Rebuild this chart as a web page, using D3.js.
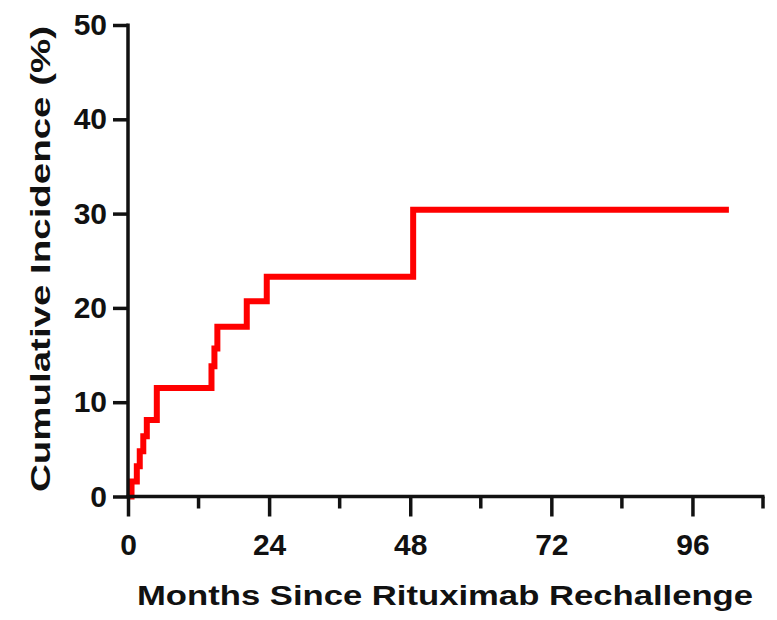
<!DOCTYPE html>
<html>
<head>
<meta charset="utf-8">
<script src="https://cdn.jsdelivr.net/npm/d3@7"></script>
<style>
  body { margin: 0; background: #fff; }
  text { font-family: "Liberation Sans", Arial, sans-serif; font-weight: bold; fill: #111; }
</style>
</head>
<body>
<svg id="chart" width="777" height="620"></svg>
<script>
// step points (months since rechallenge, cumulative incidence %)
const months = [0, 0.6, 1.5, 2.0, 2.6, 3.2, 4.9, 14.2, 14.7, 15.2, 20.2, 23.6, 48.5, 102.2];
const incidence = [0, 1.6, 3.2, 4.8, 6.4, 8.1, 11.5, 13.8, 15.7, 18.0, 20.7, 23.3, 30.4, 30.4];
const xMajor = [0, 24, 48, 72, 96];
const xMinor = [12, 36, 60, 84, 108];
const yTicks = [0, 10, 20, 30, 40, 50];

const svg = d3.select("#chart");
const x = d3.scaleLinear().domain([0, 108]).range([128, 763]);
const y = d3.scaleLinear().domain([0, 50]).range([496.5, 25]);

const data = months.map((m, i) => ({ m, v: incidence[i] }));

// the curve
const line = d3.line()
    .x(d => x(d.m))
    .y(d => y(d.v))
    .curve(d3.curveStepAfter);

svg.append("path")
    .datum(data)
    .attr("fill", "none")
    .attr("stroke", "#ff0000")
    .attr("stroke-width", 6)
    .attr("d", line);

// x axis
const gx = svg.append("g").attr("transform", "translate(0," + y(0) + ")");
gx.call(d3.axisBottom(x).tickValues(xMajor).tickSize(20).tickSizeOuter(0).tickFormat(d3.format("d")));
gx.select(".domain").remove();
gx.append("line").attr("x1", x(0) - 1.5).attr("x2", x(108) + 1.5)
    .attr("stroke", "#111").attr("stroke-width", 3.5);
gx.selectAll(".tick line").attr("stroke", "#111").attr("stroke-width", 3.5);
gx.selectAll(".tick text").attr("y", 37).attr("dy", "0.71em")
    .style("font-size", "30px").style("font-family", "Liberation Sans, Arial, sans-serif")
    .style("font-weight", "bold").attr("fill", "#111");
gx.selectAll(".minor").data(xMinor).join("line")
    .attr("class", "minor")
    .attr("x1", d => x(d)).attr("x2", d => x(d))
    .attr("y1", 0).attr("y2", 12)
    .attr("stroke", "#111").attr("stroke-width", 3.5);

// y axis
const gy = svg.append("g").attr("transform", "translate(" + x(0) + ",0)");
gy.call(d3.axisLeft(y).tickValues(yTicks).tickSize(15).tickSizeOuter(0));
gy.select(".domain").remove();
gy.append("line").attr("y1", y(50) - 1.5).attr("y2", y(0) + 1.5)
    .attr("stroke", "#111").attr("stroke-width", 3.5);
gy.selectAll(".tick line").attr("stroke", "#111").attr("stroke-width", 3.5);
gy.selectAll(".tick text").attr("x", -21)
    .style("font-size", "30px").style("font-family", "Liberation Sans, Arial, sans-serif")
    .style("font-weight", "bold").attr("fill", "#111");

// titles
svg.append("text")
    .attr("x", 445).attr("y", 605)
    .attr("text-anchor", "middle")
    .style("font-size", "28px")
    .attr("textLength", 616).attr("lengthAdjust", "spacingAndGlyphs")
    .text("Months Since Rituximab Rechallenge");

svg.append("text")
    .attr("transform", "translate(50,259) rotate(-90)")
    .attr("text-anchor", "middle")
    .style("font-size", "28px")
    .attr("textLength", 466).attr("lengthAdjust", "spacingAndGlyphs")
    .text("Cumulative Incidence (%)");
</script>
</body>
</html>
